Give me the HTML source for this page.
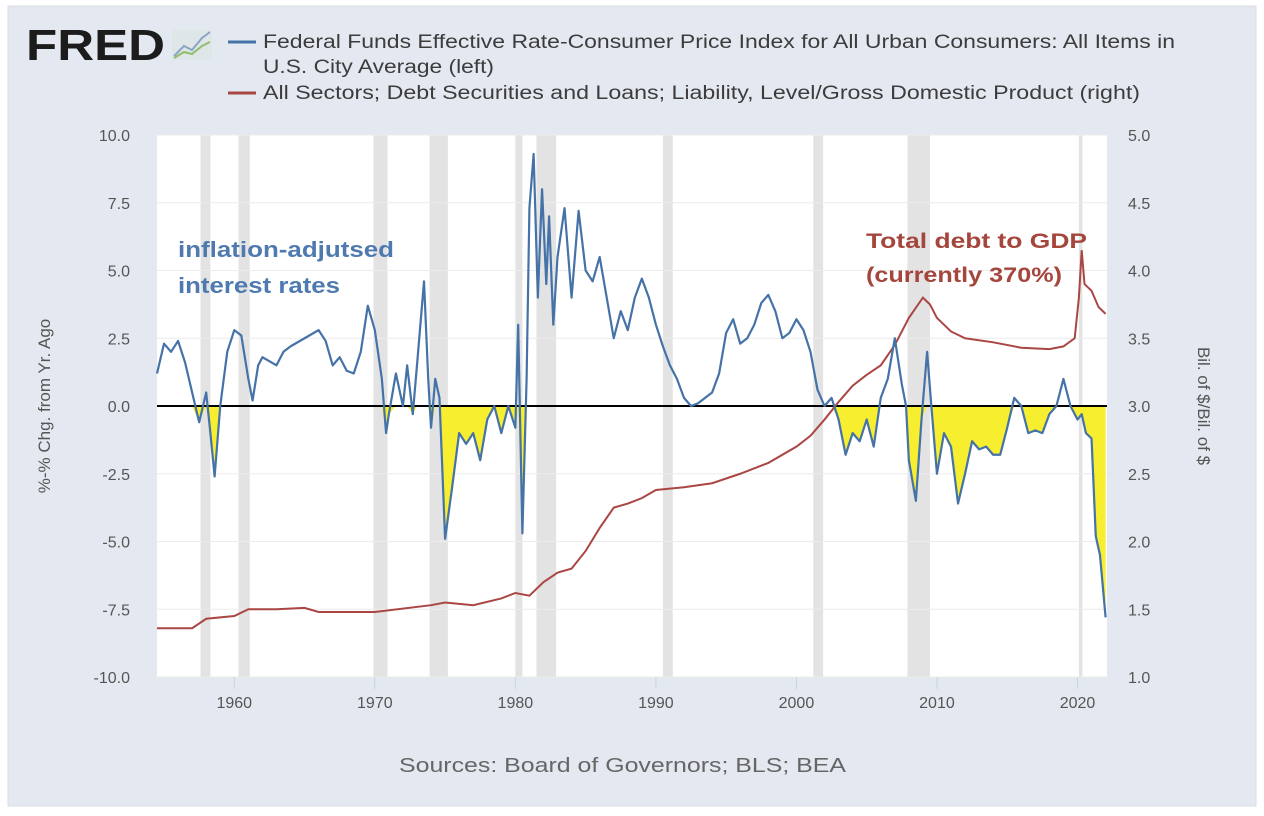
<!DOCTYPE html>
<html><head><meta charset="utf-8"><style>
body{margin:0;background:#fff;}
svg{display:block;font-family:"Liberation Sans",sans-serif;}
</style></head><body>
<svg id="c" width="1264" height="816" viewBox="0 0 1264 816">
<rect x="8" y="6" width="1248" height="800" fill="#e4e9f1" stroke="#d8dde4"/>
<text x="26" y="60" font-size="44" font-weight="bold" fill="#1c1c1c" textLength="139" lengthAdjust="spacingAndGlyphs">FRED</text>
<g><rect x="172" y="30" width="40" height="30" fill="#dfe6e8"/><polyline points="174,56 184,46 192,50 202,38 210,32" fill="none" stroke="#8aa6c6" stroke-width="2"/><polyline points="174,58 184,52 192,54 202,46 210,42" fill="none" stroke="#8fbf6a" stroke-width="2"/></g>
<g font-size="19" fill="#3c3c3c">
<line x1="228" y1="42" x2="256" y2="42" stroke="#4572a7" stroke-width="3"/>
<text x="263" y="48" textLength="912" lengthAdjust="spacingAndGlyphs">Federal Funds Effective Rate-Consumer Price Index for All Urban Consumers: All Items in</text>
<text x="263" y="73" textLength="231" lengthAdjust="spacingAndGlyphs">U.S. City Average (left)</text>
<line x1="228" y1="93" x2="256" y2="93" stroke="#aa4643" stroke-width="3"/>
<text x="263" y="99" textLength="877" lengthAdjust="spacingAndGlyphs">All Sectors; Debt Securities and Loans; Liability, Level/Gross Domestic Product (right)</text>
</g>
<rect x="157" y="135" width="950" height="542" fill="#fff"/>
<g id="rec"></g>
<g id="grid"></g>
<g id="fill"></g>
<g id="lines"></g>
<g id="axes" font-size="16" fill="#555"></g>
<text transform="translate(50,406) rotate(-90)" text-anchor="middle" font-size="17" fill="#555">%-% Chg. from Yr. Ago</text>
<text transform="translate(1198,406) rotate(90)" text-anchor="middle" font-size="17" fill="#555">Bil. of $/Bil. of $</text>
<text x="178" y="257" font-size="22" font-weight="bold" fill="#4f7ab0" textLength="216" lengthAdjust="spacingAndGlyphs">inflation-adjutsed</text>
<text x="178" y="293" font-size="22" font-weight="bold" fill="#4f7ab0" textLength="162" lengthAdjust="spacingAndGlyphs">interest rates</text>
<text x="866" y="248" font-size="21" font-weight="bold" fill="#a4463c" textLength="221" lengthAdjust="spacingAndGlyphs">Total debt to GDP</text>
<text x="866" y="282" font-size="21" font-weight="bold" fill="#a4463c" textLength="196" lengthAdjust="spacingAndGlyphs">(currently 370%)</text>
<text x="399" y="772" font-size="20" fill="#666" textLength="447" lengthAdjust="spacingAndGlyphs">Sources: Board of Governors; BLS; BEA</text>
</svg>
<script>
const recessions=[[1957.6,1958.3],[1960.3,1961.1],[1969.9,1970.9],[1973.9,1975.2],[1980.0,1980.5],[1981.5,1982.9],[1990.5,1991.2],[2001.2,2001.9],[2007.9,2009.5],[2020.1,2020.35]];
const leftTicks=[10,7.5,5,2.5,0,-2.5,-5,-7.5,-10];
const rightTicks=[5,4.5,4,3.5,3,2.5,2,1.5,1];
const xTicks=[1960,1970,1980,1990,2000,2010,2020];
const rateYears=[1954.5,1955,1955.5,1956,1956.5,1957,1957.5,1958,1958.3,1958.6,1959,1959.5,1960,1960.5,1961,1961.3,1961.7,1962,1963,1963.5,1964,1965,1966,1966.5,1967,1967.5,1968,1968.5,1969,1969.5,1970,1970.5,1970.8,1971,1971.5,1972,1972.3,1972.7,1973,1973.5,1973.8,1974,1974.3,1974.6,1975,1975.5,1976,1976.5,1977,1977.5,1978,1978.5,1979,1979.5,1980,1980.2,1980.5,1980.8,1981,1981.3,1981.6,1981.9,1982.2,1982.4,1982.7,1983,1983.5,1984,1984.5,1985,1985.5,1986,1986.5,1987,1987.5,1988,1988.5,1989,1989.5,1990,1990.5,1991,1991.5,1992,1992.5,1993,1993.5,1994,1994.5,1995,1995.5,1996,1996.5,1997,1997.5,1998,1998.5,1999,1999.5,2000,2000.5,2001,2001.5,2002,2002.5,2003,2003.5,2004,2004.5,2005,2005.5,2006,2006.5,2007,2007.5,2007.8,2008,2008.5,2008.9,2009.3,2009.6,2010,2010.5,2011,2011.5,2012,2012.5,2013,2013.5,2014,2014.5,2015,2015.5,2016,2016.5,2017,2017.5,2018,2018.5,2019,2019.5,2020,2020.3,2020.6,2021,2021.3,2021.6,2022];
const rateValues=[1.2,2.3,2.0,2.4,1.6,0.5,-0.6,0.5,-1.0,-2.6,0,2.0,2.8,2.6,1.0,0.2,1.5,1.8,1.5,2.0,2.2,2.5,2.8,2.4,1.5,1.8,1.3,1.2,2.0,3.7,2.8,1.0,-1.0,-0.3,1.2,0.0,1.5,-0.3,1.5,4.6,1.0,-0.8,1.0,0.3,-4.9,-3.0,-1.0,-1.4,-1.0,-2.0,-0.5,0.0,-1.0,0.0,-0.8,3.0,-4.7,1.0,7.3,9.3,4.0,8.0,4.5,7.0,3.0,5.5,7.3,4.0,7.2,5.0,4.6,5.5,4.0,2.5,3.5,2.8,4.0,4.7,4.0,3.0,2.2,1.5,1.0,0.3,0.0,0.1,0.3,0.5,1.2,2.7,3.2,2.3,2.5,3.0,3.8,4.1,3.5,2.5,2.7,3.2,2.8,2.0,0.6,0.0,0.3,-0.5,-1.8,-1.0,-1.3,-0.5,-1.5,0.3,1.0,2.5,0.8,0.0,-2.0,-3.5,-0.5,2.0,0.0,-2.5,-1.0,-1.5,-3.6,-2.5,-1.3,-1.6,-1.5,-1.8,-1.8,-0.8,0.3,0.0,-1.0,-0.9,-1.0,-0.3,0.0,1.0,0.0,-0.5,-0.3,-1.0,-1.2,-4.8,-5.5,-7.8];
const debtYears=[1954.5,1957,1958,1960,1961,1963,1965,1966,1970,1974,1975,1977,1979,1980,1981,1982,1983,1984,1985,1986,1987,1988,1989,1990,1992,1994,1996,1998,2000,2001,2002,2003,2004,2005,2006,2007,2008,2009,2009.5,2010,2011,2012,2014,2016,2018,2019,2019.8,2020.1,2020.3,2020.5,2021,2021.5,2022];
const debtValues=[1.36,1.36,1.43,1.45,1.5,1.5,1.51,1.48,1.48,1.53,1.55,1.53,1.58,1.62,1.6,1.7,1.77,1.8,1.93,2.1,2.25,2.28,2.32,2.38,2.4,2.43,2.5,2.58,2.7,2.78,2.9,3.03,3.15,3.23,3.3,3.45,3.65,3.8,3.75,3.65,3.55,3.5,3.47,3.43,3.42,3.44,3.5,3.8,4.15,3.9,3.85,3.73,3.68];

const NS="http://www.w3.org/2000/svg";
const X0=157,X1=1107,Y0=135,Y1=677,T0=1954.5,T1=2022.1;
const xs=t=>X0+(t-T0)/(T1-T0)*(X1-X0);
const yl=v=>Y0+(10-v)/20*(Y1-Y0);
const yr=v=>Y0+(5-v)/4*(Y1-Y0);
function mk(tag,attrs,parent){const e=document.createElementNS(NS,tag);for(const k in attrs)e.setAttribute(k,attrs[k]);document.getElementById(parent).appendChild(e);return e;}

recessions.forEach(r=>{const e=mk('rect',{x:xs(r[0]),y:Y0,width:Math.max(2,xs(r[1])-xs(r[0])),height:Y1-Y0,fill:'#e3e3e3'},'rec');

});

leftTicks.forEach((v,i)=>{const y=yl(v);
const g=mk('line',{x1:X0,x2:X1,y1:y,y2:y,stroke:'#ececec','stroke-width':1},'grid');


const t=mk('text',{x:X0-27,y:y+6,'text-anchor':'end'},'axes');t.textContent=v.toFixed(1);


const t2=mk('text',{x:1128,y:yr(rightTicks[i])+6},'axes');t2.textContent=rightTicks[i].toFixed(1);

});

xTicks.forEach(t=>{const x=xs(t);
const l=mk('line',{x1:x,x2:x,y1:Y1,y2:Y1+12,stroke:'#ccd3dc'},'axes');


const tx=mk('text',{x:x,y:Y1+31,'text-anchor':'middle'},'axes');tx.textContent=t;

});

let fp='M'+xs(rateYears[0])+','+yl(0);
rateYears.forEach((t,i)=>{fp+=' L'+xs(t)+','+Math.max(yl(0),yl(rateValues[i]));});
fp+=' L'+xs(rateYears[rateYears.length-1])+','+yl(0)+' Z';
const f=mk('path',{d:fp,fill:'#f7ee2f'},'fill');



const z=mk('line',{x1:X0,x2:X1,y1:yl(0),y2:yl(0),stroke:'#000','stroke-width':2},'lines');



const dr=mk('polyline',{points:debtYears.map((t,i)=>xs(t)+','+yr(debtValues[i])).join(' '),fill:'none',stroke:'#aa4643','stroke-width':2},'lines');


const rl=mk('polyline',{points:rateYears.map((t,i)=>xs(t)+','+yl(rateValues[i])).join(' '),fill:'none',stroke:'#4572a7','stroke-width':2.2,'stroke-linejoin':'round'},'lines');


</script>
</body></html>
